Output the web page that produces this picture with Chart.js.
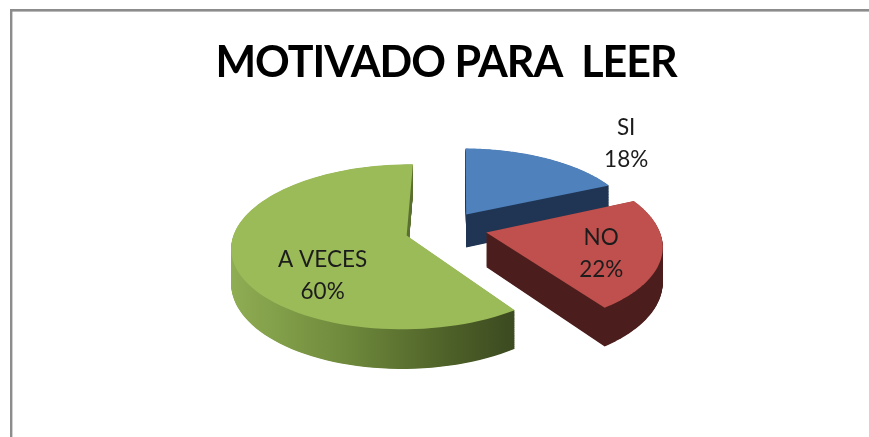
<!DOCTYPE html>
<html><head><meta charset="utf-8">
<style>html,body{margin:0;padding:0;background:#fff}canvas{display:block;filter:blur(0.4px)}</style>
<script src="https://cdn.jsdelivr.net/npm/chart.js@4"></script>
</head><body>
<canvas id="c" width="869" height="437"></canvas>
<script>
const categories = ['SI', 'NO', 'A VECES'];
const values = [18, 22, 60];
const titleText = 'MOTIVADO PARA  LEER';

const faceColors = ['#4f81bd', '#c0504d', '#9bbb59'];
const explode = [50, 50, 31];
const sideStops = [
  [[0, '#1f3553'], [1, '#1f3553']],
  [[0, '#4b1e1d'], [1, '#4b1e1d']],
  [[0, '#8fad53'], [0.4, '#6f8a3c'], [0.75, '#4f6229'], [1, '#3c4a20']]
];
const sliceNudge = [[3, 2], [1, -5], [0, 0]];
const labelShift = [[160, -71], [115, 21.5], [-84, 40.5]];
const view = { squash: 0.464, focal: 1269, depth: 34, shiftX: -9.5, font: '22.5px Lato', lineGap: 32 };

function project(cx, cy, u, v) {
  const s = view.focal / (view.focal - v);
  return { x: cx + u * s, y: cy + view.squash * v * s, s };
}

const pie3d = {
  id: 'pie3d',
  beforeDraw(chart) {
    const c = chart.ctx;
    c.save();
    c.fillStyle = '#8c8c8c';
    c.fillRect(10, 9, 859, 2.6);
    c.fillRect(10, 9, 2.4, 428);
    c.restore();
    c.letterSpacing = '-1px';
  },
  beforeDatasetDraw(chart, args) {
    const c = chart.ctx;
    c.letterSpacing = '0px';
    const arcs = args.meta.data;
    [0, 1, 2].forEach(i => {
      const a = arcs[i];
      const p = a.getProps(['x', 'y', 'startAngle', 'endAngle', 'outerRadius']);
      const cx = p.x + view.shiftX + sliceNudge[i][0], cy = p.y + sliceNudge[i][1];
      const mid = (p.startAngle + p.endAngle) / 2;
      const off = a.options.offset;
      const ax = Math.cos(mid) * off, ay = Math.sin(mid) * off;
      const pts = [project(cx, cy, ax, ay)];
      const n = 90;
      for (let k = 0; k <= n; k++) {
        const t = p.startAngle + (p.endAngle - p.startAngle) * k / n;
        pts.push(project(cx, cy, ax + Math.cos(t) * p.outerRadius, ay + Math.sin(t) * p.outerRadius));
      }
      const trace = d => {
        c.beginPath();
        pts.forEach((q, j) => {
          const y = q.y + d * q.s;
          j ? c.lineTo(q.x, y) : c.moveTo(q.x, y);
        });
        c.closePath();
      };
      const xs = pts.map(q => q.x);
      const g = c.createLinearGradient(Math.min(...xs), 0, Math.max(...xs), 0);
      sideStops[i].forEach(s => g.addColorStop(s[0], s[1]));
      c.save();
      c.fillStyle = g;
      for (let d = view.depth; d > 0; d -= 0.5) { trace(d); c.fill(); }
      trace(0);
      c.fillStyle = a.options.backgroundColor;
      c.fill();
      c.restore();
      a.$apex = pts[0];
    });
    return false;
  },
  afterDatasetsDraw(chart) {
    const c = chart.ctx;
    const arcs = chart.getDatasetMeta(0).data;
    const total = values.reduce((x, y) => x + y, 0);
    c.save();
    c.font = view.font;
    c.fillStyle = '#1c1c1c';
    c.textAlign = 'center';
    c.textBaseline = 'middle';
    arcs.forEach((a, i) => {
      const x = a.$apex.x + labelShift[i][0], y = a.$apex.y + labelShift[i][1];
      c.fillText(categories[i], x, y - view.lineGap / 2);
      c.fillText(Math.round(values[i] / total * 100) + '%', x, y + view.lineGap / 2);
    });
    c.restore();
  }
};

new Chart(document.getElementById('c'), {
  type: 'pie',
  data: {
    labels: categories,
    datasets: [{ data: values, backgroundColor: faceColors, offset: explode, borderWidth: 0 }]
  },
  plugins: [pie3d],
  options: {
    responsive: false,
    animation: false,
    radius: 172,
    rotation: 1,
    layout: { padding: { left: 23, right: 0, top: 0, bottom: 63 } },
    plugins: {
      legend: { display: false },
      tooltip: { enabled: false },
      title: {
        display: true,
        text: titleText,
        color: '#000',
        font: { family: 'Lato', size: 43, weight: 'bold', lineHeight: 1.2 },
        padding: { top: 37, bottom: 0 }
      }
    }
  }
});
</script>
</body></html>
